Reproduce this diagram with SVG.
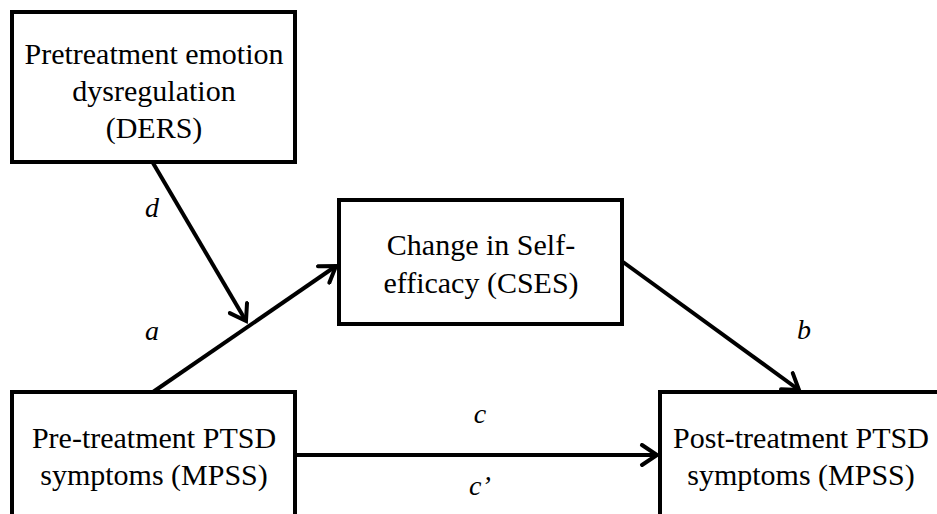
<svg xmlns="http://www.w3.org/2000/svg" width="937" height="514" viewBox="0 0 937 514">
<style>
.box{fill:#fff;stroke:#000;stroke-width:4;stroke-linejoin:miter}
text{font-family:'Liberation Serif','Times New Roman',Times,serif;fill:#000;text-anchor:middle}
.t{font-size:30px}
.lbl{font-size:28px;font-style:italic}
.edge{stroke:#000;stroke-width:4;fill:none;marker-end:url(#arr)}
</style>
<defs>
<marker id="arr" markerUnits="userSpaceOnUse" viewBox="-20 -12 24 24" refX="0" refY="0" markerWidth="24" markerHeight="24" orient="auto">
<path d="M-15,-10 L0,0 L-15,10" fill="none" stroke="#000" stroke-width="4" stroke-linecap="round" stroke-linejoin="miter"/>
</marker>
</defs>
<rect width="937" height="514" fill="#fff"/>
<g id="connectors">
<line class="edge" x1="153" y1="163" x2="246" y2="321"/>
<line class="edge" x1="153" y1="392" x2="336" y2="266"/>
<line class="edge" x1="623" y1="262" x2="799" y2="390"/>
<line class="edge" x1="297" y1="455" x2="657" y2="455"/>
</g>
<g id="labels" font-family="Liberation Serif, serif">
<text class="lbl" x="152" y="217">d</text>
<text class="lbl" x="152" y="340">a</text>
<text class="lbl" x="804" y="339">b</text>
<text class="lbl" x="480" y="423">c</text>
<text class="lbl" x="480" y="495">c’</text>
</g>
<g id="node-ders">
<rect class="box" x="12" y="12" width="283" height="150"/>
<text class="t" x="154" y="64">Pretreatment emotion</text>
<text class="t" x="154" y="101">dysregulation</text>
<text class="t" x="154" y="138">(DERS)</text>
</g>
<g id="node-cses">
<rect class="box" x="339" y="200" width="283" height="124"/>
<text class="t" x="481" y="255">Change in Self-</text>
<text class="t" x="481" y="293">efficacy (CSES)</text>
</g>
<g id="node-pre">
<rect class="box" x="12" y="392" width="283" height="140"/>
<text class="t" x="154" y="448">Pre-treatment PTSD</text>
<text class="t" x="154" y="485">symptoms (MPSS)</text>
</g>
<g id="node-post">
<rect class="box" x="660" y="392" width="300" height="140"/>
<text class="t" x="801" y="448">Post-treatment PTSD</text>
<text class="t" x="801" y="485">symptoms (MPSS)</text>
</g>
</svg>
